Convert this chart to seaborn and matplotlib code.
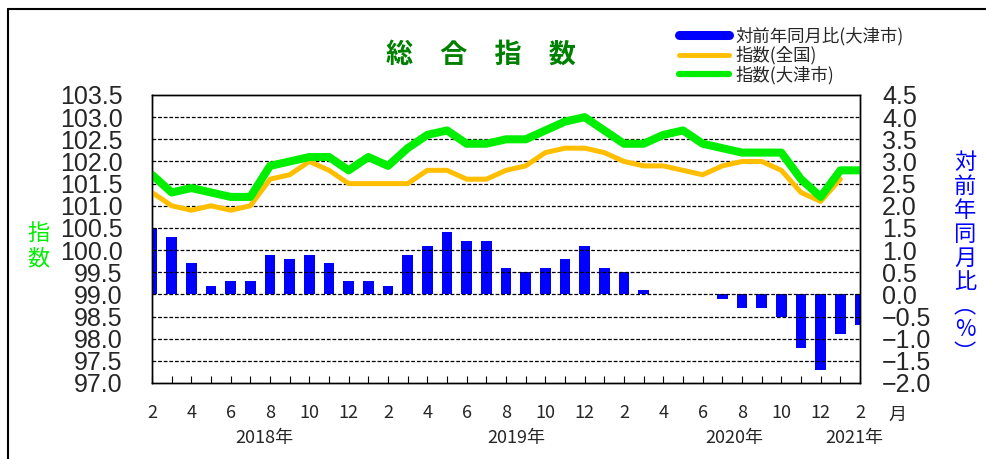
import numpy as np
import pandas as pd
import matplotlib
matplotlib.use("Agg")
import matplotlib.pyplot as plt
import seaborn as sns
from matplotlib.lines import Line2D
from matplotlib.ticker import FixedLocator, FuncFormatter

# months 2018/2 .. 2021/2
month_labels = ["2", "3", "4", "5", "6", "7", "8", "9", "10", "11", "12",
                "1", "2", "3", "4", "5", "6", "7", "8", "9", "10", "11", "12",
                "1", "2", "3", "4", "5", "6", "7", "8", "9", "10", "11", "12",
                "1", "2"]

yoy_otsu = [1.5, 1.3, 0.7, 0.2, 0.3, 0.3, 0.9, 0.8, 0.9, 0.7, 0.3,
            0.3, 0.2, 0.9, 1.1, 1.4, 1.2, 1.2, 0.6, 0.5, 0.6, 0.8, 1.1,
            0.6, 0.5, 0.1, 0.0, 0.0, 0.0, -0.1, -0.3, -0.3, -0.5, -1.2, -1.7,
            -0.9, -0.7]

index_national = [101.3, 101.0, 100.9, 101.0, 100.9, 101.0, 101.6, 101.7, 102.0, 101.8, 101.5,
                  101.5, 101.5, 101.5, 101.8, 101.8, 101.6, 101.6, 101.8, 101.9, 102.2, 102.3, 102.3,
                  102.2, 102.0, 101.9, 101.9, 101.8, 101.7, 101.9, 102.0, 102.0, 101.8, 101.3, 101.1,
                  101.6, np.nan]

index_otsu = [101.7, 101.3, 101.4, 101.3, 101.2, 101.2, 101.9, 102.0, 102.1, 102.1, 101.8,
              102.1, 101.9, 102.3, 102.6, 102.7, 102.4, 102.4, 102.5, 102.5, 102.7, 102.9, 103.0,
              102.7, 102.4, 102.4, 102.6, 102.7, 102.4, 102.3, 102.2, 102.2, 102.2, 101.6, 101.2,
              101.8, 101.8]

year_labels = ["2018年", "2019年", "2020年", "2021年"]

left_ticks = np.arange(97.0, 103.51, 0.5)
right_ticks = np.arange(-2.0, 4.51, 0.5)

sns.set_theme(style="white")
plt.rcParams['font.family'] = ['Noto Sans CJK JP', 'DejaVu Sans']
plt.rcParams['axes.unicode_minus'] = True

df = pd.DataFrame({
    "idx": np.arange(len(month_labels)),
    "yoy": yoy_otsu,
    "national": index_national,
    "otsu": index_otsu,
})

fig = plt.figure(figsize=(9.87, 4.59), dpi=100)
fig.patch.set_facecolor("white")
ax_bar = fig.add_axes([152 / 987, 1 - 383 / 459, (860 - 152) / 987, (383 - 95) / 459])
ax = ax_bar.twinx()
ax.yaxis.tick_left()
ax_bar.yaxis.tick_right()
ax.set_zorder(ax_bar.get_zorder() + 1)
ax.patch.set_visible(False)

# bars (right axis)
sns.barplot(data=df, x="idx", y="yoy", ax=ax_bar, color="#0000ff",
            width=0.55, saturation=1, native_scale=True, edgecolor="none")
ax_bar.set_ylim(-2.0, 4.5)
ax_bar.set_xlim(0, len(month_labels) - 1)

# lines (left axis)
sns.lineplot(data=df, x="idx", y="national", ax=ax, color="#ffbf00", lw=3.6)
sns.lineplot(data=df, x="idx", y="otsu", ax=ax, color="#00ee00", lw=5.8)
ax.set_ylim(97.0, 103.5)
ax.set_xlim(0, len(month_labels) - 1)

# grid
for v in left_ticks[1:-1]:
    ax.axhline(v, color="black", lw=0.9, ls=(0, (3, 1.5)), zorder=0.5)

tick_font = dict(family=['Liberation Sans', 'DejaVu Sans'], size=18)
ax.yaxis.set_major_locator(FixedLocator(left_ticks))
ax.yaxis.set_major_formatter(FuncFormatter(lambda v, p: f"{v:.1f}"))
ax.tick_params(axis="y", length=0, pad=21)
for t in ax.get_yticklabels():
    t.set_fontproperties(dict(**tick_font))

ax_bar.yaxis.set_major_locator(FixedLocator(right_ticks))
ax_bar.yaxis.set_major_formatter(FuncFormatter(lambda v, p: f"{v:.1f}".replace("-", "\u2212")))
ax_bar.tick_params(axis="y", length=0, pad=16)
for t in ax_bar.get_yticklabels():
    t.set_fontproperties(dict(**tick_font))

# x ticks
ax.set_xlabel("")
ax.set_ylabel("")
ax_bar.set_xlabel("")
ax_bar.set_ylabel("")
ax.xaxis.set_visible(False)
ax_bar.set_xticks(df["idx"], minor=True)
ax_bar.set_xticks(df["idx"][::2])
ax_bar.set_xticklabels(month_labels[::2], fontsize=13)
ax_bar.tick_params(axis="x", which="major", direction="in", length=5, width=0.8, pad=15, color="black")
ax_bar.tick_params(axis="x", which="minor", direction="in", length=5, width=0.8, color="black")
ax_bar.xaxis.set_tick_params(bottom=True, which="both")

for a in (ax, ax_bar):
    for s in a.spines.values():
        s.set_color("black")
        s.set_linewidth(1.0)

trans = ax_bar.get_xaxis_transform()
year_pos = [5.7, 18.5, 29.6, 35.7]
for xp, lab in zip(year_pos, year_labels):
    ax_bar.text(xp, -0.19, lab, transform=trans, ha="center", va="center", fontsize=13)
ax_bar.text(37.9, -0.112, "月", transform=trans, ha="center", va="center", fontsize=13)

# titles / labels
fig.text(481 / 987, 1 - 55 / 459, "総　合　指　数", ha="center", va="center",
         fontsize=19.5, fontweight="bold", color="#008000")
fig.text(38 / 987, 1 - 246 / 459, "指\n数", ha="center", va="center",
         fontsize=16, color="#00ee00", linespacing=1.1)
fig.text(965 / 987, 1 - 258 / 459, "対\n前\n年\n同\n月\n比\n\ufe35\n%\n\ufe36", ha="center", va="center",
         fontsize=16, color="#0000ff", linespacing=1.05)

handles = [Line2D([], [], color="#0000ff", lw=6.5),
           Line2D([], [], color="#ffbf00", lw=3.5),
           Line2D([], [], color="#00ee00", lw=4.5)]
fig.legend(handles, ["対前年同月比(大津市)", "指数(全国)", "指数(大津市)"],
           loc="upper left", bbox_to_anchor=(670 / 987, 1 - 18 / 459),
           frameon=False, fontsize=12.5, handlelength=2.9, labelspacing=0.05,
           handletextpad=0.35, borderpad=0)

# outer frame (left and top edges)
fig.add_artist(Line2D([8 / 987, 8 / 987], [0, 1 - 9 / 459], color="black", lw=1.5,
                      transform=fig.transFigure))
fig.add_artist(Line2D([8 / 987, 1], [1 - 9 / 459, 1 - 9 / 459], color="black", lw=1.5,
                      transform=fig.transFigure))

fig.savefig("out.png", dpi=100, facecolor="white")
